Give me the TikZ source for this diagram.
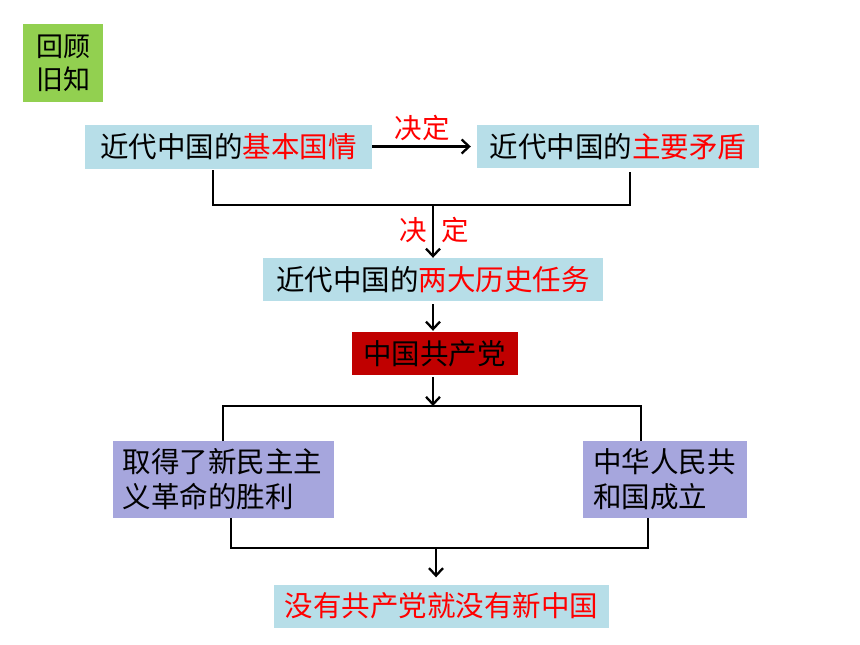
\documentclass[tikz,border=0pt]{standalone}
\usepackage{fontspec}
\setmainfont{Noto Sans CJK SC}
\usetikzlibrary{arrows.meta}
\definecolor{boxblue}{HTML}{B7DEE8}
\definecolor{boxgreen}{HTML}{92D050}
\definecolor{boxred}{HTML}{C00000}
\definecolor{boxpurple}{HTML}{A6A6DD}
\definecolor{txtred}{HTML}{FF0000}
\begin{document}
\begin{tikzpicture}[x=1pt,y=-1pt,
  box/.style={rectangle,inner sep=0pt,font=\fontsize{28.5}{34}\selectfont,text=black},
  conn/.style={line width=2.6pt,black},
  arr/.style={conn,-{Straight Barb[length=7.5pt,width=14pt,line width=2.3pt]}},
  lbl/.style={font=\fontsize{27.5}{30}\selectfont,text=txtred,inner sep=0pt}]
\useasboundingbox (0,0) rectangle (860,645);
% nodes
\node[box,fill=boxgreen,minimum width=80pt,minimum height=78pt,align=left,
  font=\fontsize{27}{33}\selectfont] (review) at (63,63) {回顾\\旧知};
\node[box,fill=boxblue,minimum width=287pt,minimum height=44pt] (b1) at (228.5,146.5)
  {近代中国的\textcolor{txtred}{基本国情}};
\node[box,fill=boxblue,minimum width=282pt,minimum height=43pt] (b2) at (618,146.5)
  {近代中国的\textcolor{txtred}{主要矛盾}};
\node[box,fill=boxblue,minimum width=340pt,minimum height=43pt] (b3) at (433,279.5)
  {近代中国的\textcolor{txtred}{两大历史任务}};
\node[box,fill=boxred,minimum width=166pt,minimum height=43pt] (b4) at (434.5,353.5)
  {中国共产党};
\node[box,fill=boxpurple,minimum width=221pt,minimum height=77pt,text width=202pt,
  align=left,font=\fontsize{28.5}{35}\selectfont] (b5) at (223.5,479.5)
  {取得了新民主主\\义革命的胜利};
\node[box,fill=boxpurple,minimum width=164pt,minimum height=77pt,text width=144pt,
  align=left,font=\fontsize{28.5}{35}\selectfont] (b6) at (665,479.5)
  {中华人民共\\和国成立};
\node[box,fill=boxblue,minimum width=335pt,minimum height=43pt,text=txtred] (b7) at (441.5,606)
  {没有共产党就没有新中国};
% labels
\node[lbl] (d1) at (422,128) {决定};
\node[lbl] (d2a) at (413,230) {决};
\node[lbl] (d2b) at (455,230) {定};
% coordinates
\coordinate (c1) at (213,170);
\coordinate (c2) at (630,172);
\coordinate (j1) at (433,205);
\coordinate (j2) at (433,406);
\coordinate (l5) at (223,441);
\coordinate (r6) at (641,441);
\coordinate (l5b) at (231,518);
\coordinate (r6b) at (648,518);
\coordinate (j3) at (436,548);
% connectors
\draw[arr,shorten >=6pt] (b1.east) -- (b2.west);
\draw[conn] (c1) |- (j1) -| (c2);
\draw[arr] (j1) -- (j1 |- b3.north);
\draw[arr,shorten <=3pt,shorten >=1pt] (b3.south) -- (b3.south |- b4.north);
\draw[arr,shorten <=2pt] (b4.south -| j2) -- (j2);
\draw[conn] (l5) |- (j2) -| (r6);
\draw[conn] (l5b) |- (j3) -| (r6b);
\draw[arr,shorten >=7pt] (j3) -- (j3 |- b7.north);
\end{tikzpicture}
\end{document}
